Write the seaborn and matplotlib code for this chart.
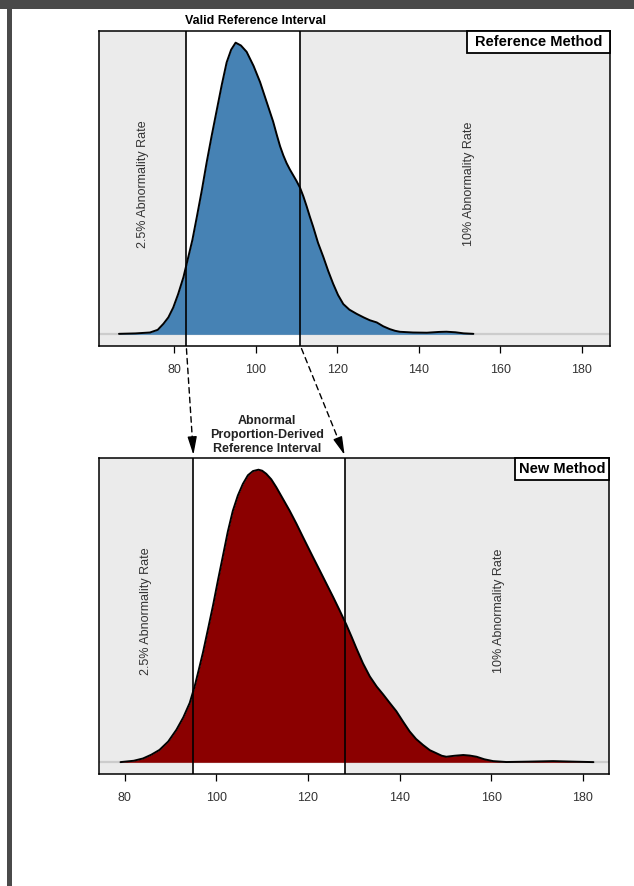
import matplotlib
matplotlib.use("Agg")
import matplotlib.pyplot as plt
import seaborn as sns
from matplotlib import transforms
from matplotlib.patches import Rectangle, FancyArrowPatch

# --- Data (density in % per unit) ---
# density curve of the reference method
ref_x = [66.5, 70.5, 74.1, 76.0, 77.4, 78.6, 79.8, 81.0, 82.3, 83.3, 84.5, 85.6,
         86.8, 88.0, 89.2, 90.5, 91.7, 92.9, 94.0, 95.1, 96.4, 97.8, 99.5, 101.1,
         102.7, 104.3, 105.2, 106.0, 106.8, 107.6, 108.4, 109.2, 110.0, 110.9, 111.7,
         112.5, 113.3, 114.1, 115.3, 116.6, 117.8, 119.0, 120.2, 121.5, 123.0, 124.8,
         126.5, 128.0, 129.7, 131.3, 132.9, 134.2, 135.4, 138.6, 142.0, 145.0, 146.8,
         149.0, 151.0, 153.4]
ref_density = [0.007, 0.013, 0.026, 0.064, 0.15, 0.24, 0.38, 0.57, 0.81, 1.05, 1.34, 1.67,
               2.04, 2.44, 2.81, 3.19, 3.54, 3.86, 4.04, 4.14, 4.10, 4.01, 3.81, 3.58,
               3.30, 3.02, 2.83, 2.67, 2.54, 2.43, 2.34, 2.26, 2.18, 2.08, 1.96,
               1.82, 1.67, 1.53, 1.30, 1.10, 0.90, 0.72, 0.56, 0.43, 0.35, 0.29,
               0.24, 0.20, 0.169, 0.114, 0.074, 0.050, 0.036, 0.026, 0.023, 0.034, 0.037,
               0.029, 0.014, 0.007]

# density curve of the new method
new_x = [79.1, 82.0, 84.0, 85.8, 87.6, 89.5, 91.3, 92.8, 94.2, 95.3, 96.2, 97.1, 98.2,
         99.3, 100.4, 101.5, 102.5, 103.6, 104.7, 105.8, 106.9, 108.0, 109.2, 110.0,
         110.9, 112.0, 113.1, 114.5, 116.0, 117.5, 118.9, 120.0, 121.1, 122.5, 124.0,
         125.5, 126.9, 128.4, 129.5, 130.6, 132.0, 133.5, 135.0, 136.4, 137.8, 139.3,
         140.8, 142.2, 143.6, 145.1, 146.6, 148.1, 149.2, 150.2, 152.0, 153.9, 155.3,
         156.8, 158.5, 160.4, 163.3, 168.0, 173.5, 178.0, 182.3]
new_density = [0.002, 0.017, 0.042, 0.083, 0.136, 0.228, 0.358, 0.494, 0.653, 0.839,
               1.022, 1.209, 1.467, 1.728, 2.011, 2.283, 2.533, 2.764, 2.933, 3.061,
               3.156, 3.202, 3.217, 3.206, 3.172, 3.111, 3.024, 2.900, 2.767, 2.622,
               2.478, 2.367, 2.256, 2.117, 1.967, 1.817, 1.672, 1.511, 1.383, 1.250,
               1.089, 0.944, 0.833, 0.747, 0.656, 0.561, 0.444, 0.339, 0.256, 0.191,
               0.133, 0.098, 0.072, 0.061, 0.072, 0.080, 0.074, 0.061, 0.033, 0.013,
               0.003, 0.007, 0.013, 0.007, 0.002]

ref_interval = [83, 111]
new_interval = [95, 128]
x_ticks = [80, 100, 120, 140, 160, 180]

sns.set_theme(style="white")
plt.rcParams['font.family'] = ['Liberation Sans', 'DejaVu Sans']

W, H = 634, 886
fig = plt.figure(figsize=(W / 100, H / 100), dpi=100)
fig.patch.set_facecolor("white")


def px_axes(left, top, right, bottom):
    return fig.add_axes([left / W, 1 - bottom / H, (right - left) / W, (bottom - top) / H])


def draw_panel(ax, x, dens, interval, color, xlim, label, box_w, left_txt_x, right_txt_x):
    ax.set_facecolor("#ebebeb")
    ax.axvspan(interval[0], interval[1], color="white", lw=0, zorder=0)
    ax.axhline(0, color="#cccccc", lw=1.6, zorder=1)
    ax.fill_between(x, dens, color=color, lw=0, zorder=2)
    sns.lineplot(x=x, y=dens, ax=ax, color="black", lw=1.4, sort=False,
                 errorbar=None, zorder=3, solid_joinstyle="round",
                 solid_capstyle="round")
    for v in interval:
        ax.axvline(v, color="black", lw=1.2, zorder=4)

    ymax = max(dens)
    ax.set_ylim(-0.04 * ymax, 1.04 * ymax)
    ax.set_xlim(*xlim)
    ax.set_xticks(x_ticks)
    ax.set_xticklabels([str(t) for t in x_ticks])
    ax.set_yticks([])
    ax.set_xlabel("")
    ax.set_ylabel("")
    ax.tick_params(axis="x", bottom=True, length=5, width=0.9, color="black",
                   labelsize=9, labelcolor="#333333", pad=8)
    for sp in ax.spines.values():
        sp.set_visible(True)
        sp.set_color("black")
        sp.set_linewidth(1.1)

    blend = transforms.blended_transform_factory(ax.transData, ax.transAxes)
    ax.text(left_txt_x, 0.515, "2.5% Abnormality Rate", rotation=90, transform=blend,
            ha="center", va="center", fontsize=9, color="#333333")
    ax.text(right_txt_x, 0.515, "10% Abnormality Rate", rotation=90, transform=blend,
            ha="center", va="center", fontsize=9, color="#333333")

    # method label box in the top right corner
    box_h = 22 / (ax.get_position().height * H)
    ax.add_patch(Rectangle((1 - box_w, 1 - box_h), box_w, box_h, transform=ax.transAxes,
                           facecolor="white", edgecolor="black", lw=1.3, zorder=6,
                           clip_on=False))
    ax.text(1 - box_w / 2, 1 - box_h / 2, label, transform=ax.transAxes, ha="center",
            va="center", fontsize=10.5, fontweight="bold", color="black", zorder=7)
    return blend


ax1 = px_axes(99, 31, 610, 346)
ax2 = px_axes(99, 458, 609, 774)

b1 = draw_panel(ax1, ref_x, ref_density, ref_interval, "#4682b4", (61.6, 186.9),
                "Reference Method", 143 / 511, 72.3, 152.3)
b2 = draw_panel(ax2, new_x, new_density, new_interval, "#8b0000", (74.4, 185.7),
                "New Method", 94 / 510, 84.7, 161.7)

ax1.text(100, 1 + 10 / 315, "Valid Reference Interval", transform=b1, ha="center",
         va="center", fontsize=9, fontweight="bold", color="black")
ax2.text(111, 1 + 3 / 316, "Abnormal\nProportion-Derived\nReference Interval",
         transform=b2, ha="center", va="bottom", fontsize=9, fontweight="bold",
         color="#222222", linespacing=1.25)

# dashed arrows linking the two intervals
inv = fig.transFigure.inverted()
for xa, xb in zip(ref_interval, new_interval):
    pa = ax1.transData.transform((xa, ax1.get_ylim()[0]))
    pb = ax2.transData.transform((xb, ax2.get_ylim()[1]))
    pb = (pb[0], pb[1] + 3)
    d = ((pb[0] - pa[0]) ** 2 + (pb[1] - pa[1]) ** 2) ** 0.5
    pm = (pb[0] - (pb[0] - pa[0]) * 14 / d, pb[1] - (pb[1] - pa[1]) * 14 / d)
    fa, fb, fm = inv.transform(pa), inv.transform(pb), inv.transform(pm)
    fig.add_artist(FancyArrowPatch(fa, fm, transform=fig.transFigure, arrowstyle="-",
                                   color="black", lw=1.0, linestyle=(0, (4, 3))))
    fig.add_artist(FancyArrowPatch(fm, fb, transform=fig.transFigure,
                                   arrowstyle="-|>,head_length=1.1,head_width=0.28",
                                   mutation_scale=10, color="black", lw=1.0,
                                   shrinkA=0, shrinkB=0))

# dark page frame on top and left
fig.add_artist(Rectangle((0, 1 - 9 / H), 1, 9 / H, transform=fig.transFigure,
                         facecolor="#4a4a4a", lw=0))
fig.add_artist(Rectangle((7 / W, 0), 5 / W, 1, transform=fig.transFigure,
                         facecolor="#4a4a4a", lw=0))

fig.savefig("out.png", dpi=100, facecolor="white")
